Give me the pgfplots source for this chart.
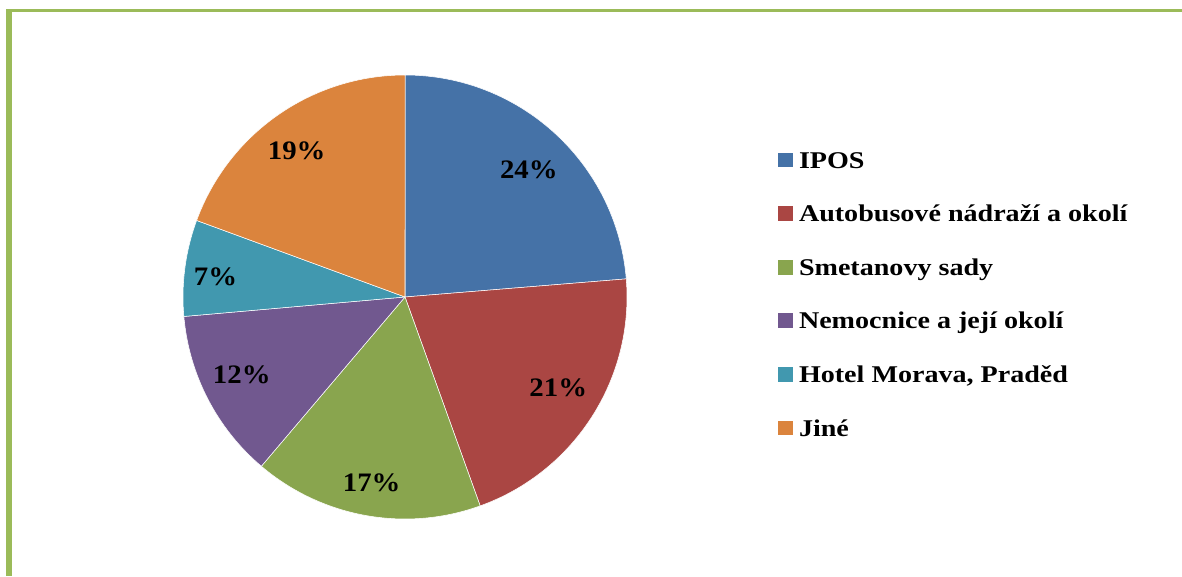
\documentclass[border=0pt]{standalone}
\usepackage{pgfplots}
\usepackage{pgfplotstable}
\pgfplotsset{compat=1.18}
\usepackage{fontspec}
\setmainfont{Liberation Serif}
\newfontfamily\legfont{Liberation Serif}[FakeStretch=1.17]
\newfontfamily\pctfont{Liberation Serif}[FakeStretch=1.08]
\definecolor{c0}{HTML}{4572A7}
\definecolor{c1}{HTML}{AA4643}
\definecolor{c2}{HTML}{89A54E}
\definecolor{c3}{HTML}{71588F}
\definecolor{c4}{HTML}{4198AF}
\definecolor{c5}{HTML}{DB843D}
\definecolor{frameg}{HTML}{9BBB59}
\tikzset{pctlabel/.style={font=\pctfont\bfseries\fontsize{20}{24}\selectfont,
  inner sep=0pt, text height=13.6pt, text depth=0pt}}
% value = share in %, lr = label radius (px), la = label angle offset (deg)
\pgfplotstableread[col sep=semicolon]{
name;value;lr;la
IPOS;23.7;177.5;-1.6
Autobusové nádraží a okolí;20.8;178;2.2
Smetanovy sady;16.7;188.5;0.1
Nemocnice a její okolí;12.4;180.5;-2.1
Hotel Morava, Praděd;7.0;190.6;1.5
Jiné;19.4;182;1.6
}\piedata
\begin{document}
\begin{tikzpicture}
\pgfmathsetmacro\pietotal{0}
\pgfplotsforeachungrouped \i in {0,...,5}{%
  \pgfplotstablegetelem{\i}{value}\of\piedata
  \pgfmathsetmacro\pietotal{\pietotal+\pgfplotsretval}}
\def\slcur{90}
\pgfplotsforeachungrouped \i in {0,...,5}{%
  \pgfplotstablegetelem{\i}{value}\of\piedata
  \pgfmathtruncatemacro\slpct{round(\pgfplotsretval/\pietotal*100)}
  \pgfmathsetmacro\slnxt{\slcur-\pgfplotsretval/\pietotal*360}
  \pgfplotstablegetelem{\i}{la}\of\piedata
  \pgfmathsetmacro\slmd{(\slcur+\slnxt)/2+\pgfplotsretval}
  \pgfplotstablegetelem{\i}{lr}\of\piedata
  \expandafter\xdef\csname lr\i\endcsname{\pgfplotsretval}
  \expandafter\xdef\csname sa\i\endcsname{\slcur}
  \expandafter\xdef\csname ea\i\endcsname{\slnxt}
  \expandafter\xdef\csname ma\i\endcsname{\slmd}
  \expandafter\xdef\csname pc\i\endcsname{\slpct}
  \pgfplotstablegetelem{\i}{name}\of\piedata
  \expandafter\xdef\csname nm\i\endcsname{\pgfplotsretval}
  \let\slcur\slnxt}
\begin{axis}[
  x=0.75pt, y=0.75pt,
  xmin=0, xmax=1182, ymin=0, ymax=576,
  hide axis, clip=false,
  anchor=south west, at={(0,0)},
  legend style={at={(axis cs:778,424)}, anchor=north west, draw=none, fill=none,
    inner sep=0pt, outer sep=0pt, row sep=28.2pt, column sep=4.5pt,
    font=\legfont\bfseries\fontsize{18}{21}\selectfont,
    nodes={inner sep=0pt, text height=12pt, text depth=0pt}},
  legend cell align=left,
  legend image code/.code={\fill[#1] (0pt,-5.6pt) rectangle (11.25pt,5.6pt);},
]
\path (axis cs:0,0) rectangle (axis cs:1182,576);
\fill[frameg] (axis cs:6,0) rectangle (axis cs:12,567);
\fill[frameg] (axis cs:6,564) rectangle (axis cs:1182,567);
\pgfplotsinvokeforeach{0,...,5}{%
  \edef\temp{\noexpand\fill[c#1, draw=white, line width=0.4pt, line join=round]
    (axis cs:405,279) -- ++(\csname sa#1\endcsname:166.5pt)
    arc[start angle=\csname sa#1\endcsname, end angle=\csname ea#1\endcsname, radius=166.5pt] -- cycle;}%
  \temp
}
\pgfplotsinvokeforeach{0,...,5}{%
  \edef\temp{\noexpand\node[pctlabel] at
    (axis cs:{405+\csname lr#1\endcsname*cos(\csname ma#1\endcsname)},{279+\csname lr#1\endcsname*sin(\csname ma#1\endcsname)})
    {\csname pc#1\endcsname\noexpand\%};}%
  \temp
}
\pgfplotsinvokeforeach{0,...,5}{%
  \addlegendimage{fill=c#1, draw=none}
  \edef\temp{\noexpand\addlegendentry{\csname nm#1\endcsname}}%
  \temp
}
\end{axis}
\end{tikzpicture}
\end{document}
